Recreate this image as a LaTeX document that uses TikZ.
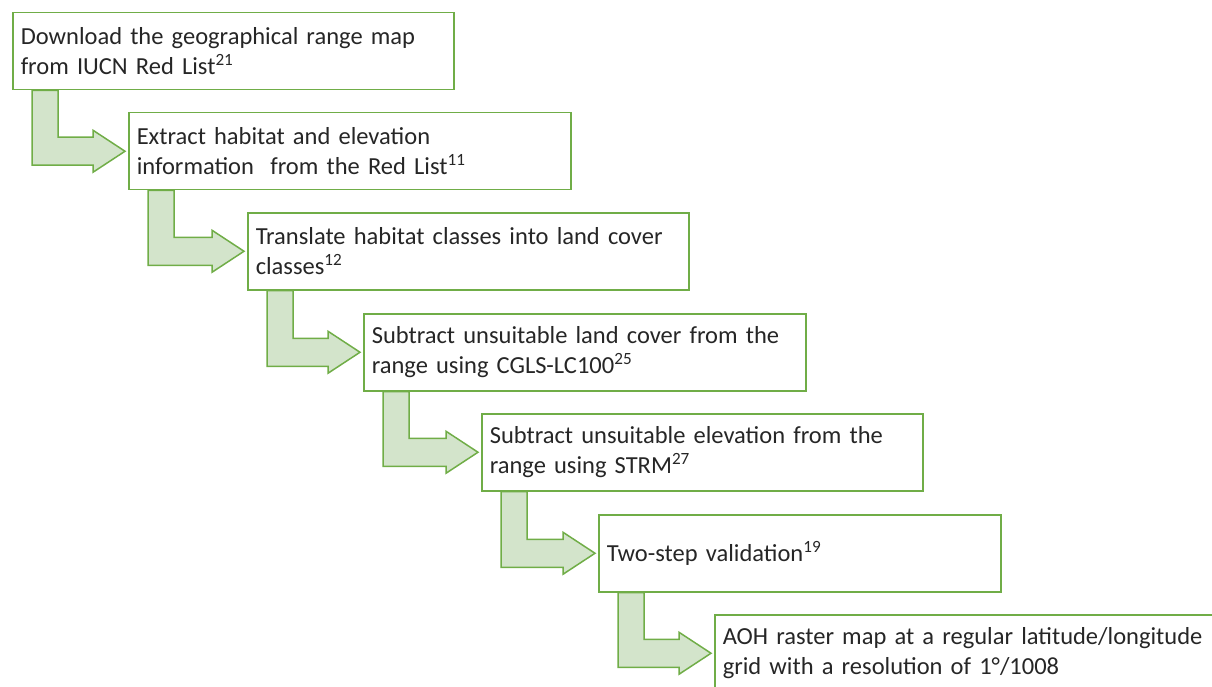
\documentclass[tikz,border=0pt]{standalone}
\usepackage{fontspec}
\setmainfont{Carlito}
\usepackage{tikz}
\usetikzlibrary{calc,backgrounds}

\definecolor{boxgreen}{HTML}{70AD47}
\definecolor{arrowfill}{HTML}{D3E4CB}
\definecolor{txt}{HTML}{262626}

\tikzset{
  stepbox/.style={draw=boxgreen, line width=1.5pt, fill=white, rectangle,
    anchor=north west, minimum height=77pt, inner xsep=8pt, align=left,
    text=txt, font=\fontsize{24.5}{30}\selectfont},
  bentarrow/.style={draw=boxgreen, line width=1.5pt, fill=arrowfill, line join=miter}
}

\begin{document}
\begin{tikzpicture}[x=1pt,y=-1pt]
\useasboundingbox (0,0) rectangle (1212,687);
\clip (0,0) rectangle (1212,687);
\node[stepbox, text width=425pt] (B1) at (12,12) {Download the geographical range map\\from IUCN Red List\textsuperscript{21}};
\node[stepbox, text width=426pt] (B2) at (128,112) {Extract habitat and elevation\\information \ from the Red List\textsuperscript{11}};
\node[stepbox, text width=425pt] (B3) at (247,212) {Translate habitat classes into land cover\\classes\textsuperscript{12}};
\node[stepbox, text width=426pt] (B4) at (363,313) {Subtract unsuitable land cover from the\\range using CGLS-LC100\textsuperscript{25}};
\node[stepbox, text width=425pt] (B5) at (481,413) {Subtract unsuitable elevation from the\\range using STRM\textsuperscript{27}};
\node[stepbox, text width=386pt] (B6) at (598,514) {Two-step validation\textsuperscript{19}};
\node[stepbox, text width=524pt] (B7) at (714,614) {AOH raster map at a regular latitude/longitude\\grid with a resolution of 1°/1008};
\begin{pgfonlayer}{background}
\draw[bentarrow] ($(B1.south west)+(20,0)$) -- ++(26,0) |- ($(B2.west)+(-35,-14)$) -- ++(0,-7) -- ($(B2.west)+(-3,0)$) -- ($(B2.west)+(-35,21)$) -- ++(0,-7) -| ($(B1.south west)+(20,0)$) -- cycle;
\draw[bentarrow] ($(B2.south west)+(20,0)$) -- ++(26,0) |- ($(B3.west)+(-35,-14)$) -- ++(0,-7) -- ($(B3.west)+(-3,0)$) -- ($(B3.west)+(-35,21)$) -- ++(0,-7) -| ($(B2.south west)+(20,0)$) -- cycle;
\draw[bentarrow] ($(B3.south west)+(20,0)$) -- ++(26,0) |- ($(B4.west)+(-35,-14)$) -- ++(0,-7) -- ($(B4.west)+(-3,0)$) -- ($(B4.west)+(-35,21)$) -- ++(0,-7) -| ($(B3.south west)+(20,0)$) -- cycle;
\draw[bentarrow] ($(B4.south west)+(20,0)$) -- ++(26,0) |- ($(B5.west)+(-35,-14)$) -- ++(0,-7) -- ($(B5.west)+(-3,0)$) -- ($(B5.west)+(-35,21)$) -- ++(0,-7) -| ($(B4.south west)+(20,0)$) -- cycle;
\draw[bentarrow] ($(B5.south west)+(20,0)$) -- ++(26,0) |- ($(B6.west)+(-35,-14)$) -- ++(0,-7) -- ($(B6.west)+(-3,0)$) -- ($(B6.west)+(-35,21)$) -- ++(0,-7) -| ($(B5.south west)+(20,0)$) -- cycle;
\draw[bentarrow] ($(B6.south west)+(20,0)$) -- ++(26,0) |- ($(B7.west)+(-35,-14)$) -- ++(0,-7) -- ($(B7.west)+(-3,0)$) -- ($(B7.west)+(-35,21)$) -- ++(0,-7) -| ($(B6.south west)+(20,0)$) -- cycle;
\end{pgfonlayer}
\end{tikzpicture}
\end{document}
